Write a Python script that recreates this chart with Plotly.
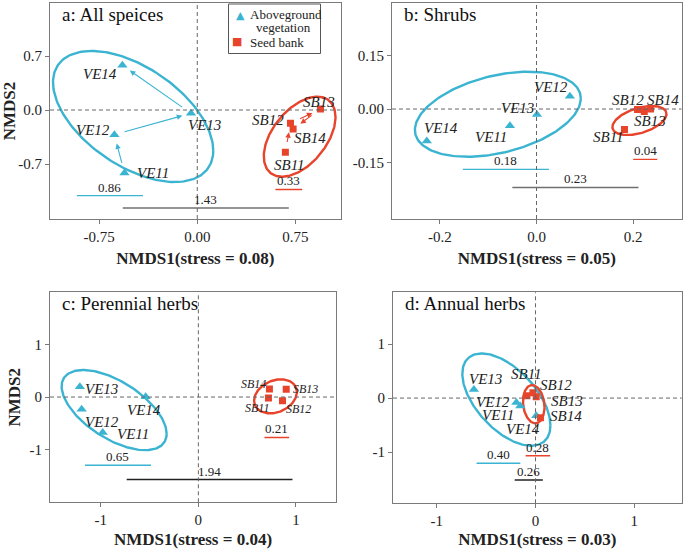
import numpy as np
import plotly.graph_objects as go

# ---- data ----
ve_names = ["VE11", "VE12", "VE13", "VE14"]
sb_names = ["SB11", "SB12", "SB13", "SB14"]

# panel a: All speices
a_ve_x = [-0.556, -0.633, -0.048, -0.572]
a_ve_y = [-0.817, -0.320, -0.043, 0.579]
a_sb_x = [0.673, 0.712, 0.941, 0.732]
a_sb_y = [-0.549, -0.173, 0.013, -0.246]

# panel b: Shrubs
b_ve_x = [-0.055, 0.069, 0.001, -0.227]
b_ve_y = [-0.047, 0.036, -0.015, -0.089]
b_sb_x = [0.182, 0.209, 0.223, 0.236]
b_sb_y = [-0.057, -0.001, -0.007, 0.000]

# panel c: Perennial herbs
c_ve_x = [-0.980, -1.196, -1.214, -0.540]
c_ve_y = [-0.672, -0.234, 0.196, 0.006]
c_sb_x = [0.718, 0.862, 0.900, 0.728]
c_sb_y = [-0.019, -0.070, 0.146, 0.152]

# panel d: Annual herbs
d_ve_x = [-0.154, -0.194, -0.624, 0.007]
d_ve_y = [-0.148, -0.080, 0.161, -0.327]
d_sb_x = [-0.087, -0.026, 0.007, 0.050]
d_sb_y = [0.043, 0.098, 0.024, -0.364]

# ellipses: centre x, centre y, half width, half height, correlation
a_ell = {"ve": [-0.49, -0.084, 0.612, 0.850, -0.52], "sb": [0.782, -0.346, 0.274, 0.519, 0.49]}
b_ell = {"ve": [-0.080, -0.0145, 0.1716, 0.1187, 0.37], "sb": [0.213, -0.032, 0.056, 0.0405, 0.45]}
c_ell = {"ve": [-0.863, -0.248, 0.538, 0.762, -0.59], "sb": [0.79, 0.013, 0.219, 0.324, 0.25]}
d_ell = {"ve": [-0.295, -0.028, 0.446, 0.855, -0.56], "sb": [-0.018, -0.114, 0.109, 0.355, -0.15]}

# distance bars: [x start, x end, y, label]
a_bars = {"ve": [-0.92, -0.415, -1.11, "0.86"], "sb": [0.597, 0.801, -1.03, "0.33"], "all": [-0.569, 0.699, -1.271, "1.43"]}
b_bars = {"ve": [-0.1525, 0.0257, -0.1685, "0.18"], "sb": [0.200, 0.250, -0.1405, "0.04"], "all": [-0.050, 0.211, -0.219, "0.23"]}
c_bars = {"ve": [-1.162, -0.485, -1.295, "0.65"], "sb": [0.677, 0.930, -0.768, "0.21"], "all": [-0.734, 0.964, -1.568, "1.94"]}
d_bars = {"ve": [-0.597, -0.154, -1.209, "0.40"], "sb": [-0.100, 0.148, -1.068, "0.28"], "all": [-0.211, 0.074, -1.519, "0.26"]}

titles = ["a: All speices", "b: Shrubs", "c: Perennial herbs", "d: Annual herbs"]
stress = ["0.08", "0.05", "0.04", "0.03"]
legend_names = ["Aboveground", "vegetation", "Seed bank"]

BLUE = "#3BB4D2"
RED = "#E8442C"
SERIF = "Liberation Serif"
W, H = 685, 549

# label offsets in pixels (dx right, dy down) per point, VE11..VE14 / SB11..SB14
panels = [
    dict(vx=a_ve_x, vy=a_ve_y, sx=a_sb_x, sy=a_sb_y, ell=a_ell, bars=a_bars,
         xd=[50 / W, 340.5 / W], yd=[1 - 219 / H, 1 - 3 / H],
         xr=[-1.125, 1.094], yr=[-1.413, 1.387],
         xt=[-0.75, 0, 0.75], xtt=["-0.75", "0.00", "0.75"],
         yt=[-0.7, 0, 0.7], ytt=["-0.7", "0.0", "0.7"],
         voff=[(29, 0), (-21, -5), (13, 12), (-22, 9)],
         soff=[(4, 13), (-22, -3), (-1, -7), (17, 9)],
         sfont=15, allc="#707070"),
    dict(vx=b_ve_x, vy=b_ve_y, sx=b_sb_x, sy=b_sb_y, ell=b_ell, bars=b_bars,
         xd=[392 / W, 681.5 / W], yd=[1 - 219 / H, 1 - 3 / H],
         xr=[-0.299, 0.300], yr=[-0.307, 0.296],
         xt=[-0.2, 0, 0.2], xtt=["-0.2", "0.0", "0.2"],
         yt=[-0.15, 0, 0.15], ytt=["-0.15", "0.00", "0.15"],
         voff=[(-19, 11), (-19, -9), (-19, -6), (14, -13)],
         soff=[(-16, 8), (-10, -9), (6, 9), (12, -9)],
         sfont=15, allc="#707070"),
    dict(vx=c_ve_x, vy=c_ve_y, sx=c_sb_x, sy=c_sb_y, ell=c_ell, bars=c_bars,
         xd=[50 / W, 336 / W], yd=[1 - 502.3 / H, 1 - 292.3 / H],
         xr=[-1.52, 1.41], yr=[-2.0, 1.99],
         xt=[-1, 0, 1], xtt=["-1", "0", "1"],
         yt=[-1, 0, 1], ytt=["-1", "0", "1"],
         voff=[(30, 2), (20, 13), (22, 2), (-2, 13)],
         soff=[(-11, 10), (16, 8), (19, 0), (-16, -5)],
         sfont=12, allc="#222222"),
    dict(vx=d_ve_x, vy=d_ve_y, sx=d_sb_x, sy=d_sb_y, ell=d_ell, bars=d_bars,
         xd=[393 / W, 681.7 / W], yd=[1 - 503.3 / H, 1 - 292.3 / H],
         xr=[-1.443, 1.48], yr=[-1.95, 1.96],
         xt=[-1, 0, 1], xtt=["-1", "0", "1"],
         yt=[-1, 0, 1], ytt=["-1", "0", "1"],
         voff=[(-22, 9), (-23, 0), (12, -10), (-13, 13)],
         soff=[(0, -22), (23, -8), (31, 4), (26, -2)],
         sfont=15, allc="#222222"),
]


def ellipse(cx, cy, wx, wy, r, n=200):
    t = np.linspace(0, 2 * np.pi, n)
    return cx + wx * np.cos(t), cy + wy * (r * np.cos(t) + np.sqrt(1 - r * r) * np.sin(t))


fig = go.Figure()
annotations = []
shapes = []

for i, p in enumerate(panels):
    n = "" if i == 0 else str(i + 1)
    xa, ya = "x" + n, "y" + n

    # ellipses
    for key, col in (("ve", BLUE), ("sb", RED)):
        ex, ey = ellipse(*p["ell"][key])
        fig.add_trace(go.Scatter(x=ex, y=ey, mode="lines", line=dict(color=col, width=2.4),
                                 xaxis=xa, yaxis=ya, showlegend=False, hoverinfo="skip"))

    # distance bars
    for key, col in (("ve", BLUE), ("sb", RED), ("all", p["allc"])):
        x0, x1, yb, lab = p["bars"][key]
        fig.add_trace(go.Scatter(x=[x0, x1], y=[yb, yb], mode="lines",
                                 line=dict(color=col, width=1.6 if key == "all" else 1.4),
                                 xaxis=xa, yaxis=ya, showlegend=False, hoverinfo="skip"))
        annotations.append(dict(x=(x0 + x1) / 2, y=yb, xref=xa, yref=ya, text=lab, showarrow=False,
                                yanchor="bottom", yshift=-1,
                                font=dict(family=SERIF, size=13, color="#222")))

    # points
    fig.add_trace(go.Scatter(x=p["vx"], y=p["vy"], mode="markers", name="Aboveground vegetation",
                             marker=dict(symbol="triangle-up", size=9, color=BLUE),
                             xaxis=xa, yaxis=ya, showlegend=False))
    fig.add_trace(go.Scatter(x=p["sx"], y=p["sy"], mode="markers", name="Seed bank",
                             marker=dict(symbol="square", size=7, color=RED),
                             xaxis=xa, yaxis=ya, showlegend=False))

    # point labels
    for names, xs, ys, offs, fs in ((ve_names, p["vx"], p["vy"], p["voff"], 15),
                                    (sb_names, p["sx"], p["sy"], p["soff"], p["sfont"])):
        for name, xv, yv, (dx, dy) in zip(names, xs, ys, offs):
            annotations.append(dict(x=xv, y=yv, xref=xa, yref=ya, text="<i>" + name + "</i>",
                                    showarrow=False, xshift=dx, yshift=-dy,
                                    font=dict(family=SERIF, size=fs, color="#222")))

    # dashed zero lines
    shapes.append(dict(type="line", xref=xa, yref=ya + " domain", x0=0, x1=0, y0=0, y1=1,
                       line=dict(color="#666", width=1, dash="4px,3px")))
    shapes.append(dict(type="line", xref=xa + " domain", yref=ya, x0=0, x1=1, y0=0, y1=0,
                       line=dict(color="#666", width=1, dash="4px,3px")))

    # panel title
    annotations.append(dict(x=0.035, y=1, yshift=1, xref=xa + " domain", yref=ya + " domain", text=titles[i],
                            showarrow=False, xanchor="left", yanchor="top",
                            font=dict(family=SERIF, size=19, color="#111")))

    axis_common = dict(showline=True, mirror=True, linecolor="#7a7a7a", linewidth=1, showgrid=False,
                       zeroline=False, ticks="outside", ticklen=4, tickcolor="#7a7a7a", automargin=False,
                       tickfont=dict(family=SERIF, size=15, color="#222"))
    fig.layout["xaxis" + n] = dict(domain=p["xd"], range=p["xr"], anchor=ya, tickvals=p["xt"], ticktext=p["xtt"],
                                   title=dict(text="<b>NMDS1(stress = " + stress[i] + ")</b>", standoff=8,
                                              font=dict(family=SERIF, size=17, color="#222")),
                                   **axis_common)
    fig.layout["yaxis" + n] = dict(domain=p["yd"], range=p["yr"], anchor=xa, tickvals=p["yt"], ticktext=p["ytt"],
                                   title=dict(text="<b>NMDS2</b>" if i in (0, 2) else "", standoff=4,
                                              font=dict(family=SERIF, size=17, color="#222")),
                                   **axis_common)

# successional arrows in panel a (VE11 -> VE12 -> VE13 -> VE14, same for SB)
for xs, ys, col in ((a_ve_x, a_ve_y, BLUE), (a_sb_x, a_sb_y, RED)):
    for k in range(len(xs) - 1):
        annotations.append(dict(x=xs[k + 1], y=ys[k + 1], ax=xs[k], ay=ys[k], xref="x", yref="y",
                                axref="x", ayref="y", text="", showarrow=True, arrowhead=2,
                                arrowsize=1, arrowwidth=1.1, arrowcolor=col, standoff=9, startstandoff=9))

# legend box drawn in panel a (tight two-line entry as in the original)
shapes.append(dict(type="rect", xref="paper", yref="paper", x0=228.5 / W, x1=320.5 / W,
                   y0=1 - 53.5 / H, y1=1 - 4 / H, line=dict(color="#555", width=1), fillcolor="white",
                   layer="above"))
leg_font = dict(family=SERIF, size=13, color="#222")
leg_common = dict(xref="paper", yref="paper", showarrow=False, yanchor="middle")
annotations += [
    dict(x=240 / W, y=1 - 15 / H, text="▲", xanchor="center",
         font=dict(family="DejaVu Sans", size=11, color=BLUE), **leg_common),
    dict(x=248 / W, y=1 - 14.5 / H, text=legend_names[0], xanchor="left", font=leg_font, **leg_common),
    dict(x=283 / W, y=1 - 27 / H, text=legend_names[1], xanchor="center", font=leg_font, **leg_common),
    dict(x=237 / W, y=1 - 42 / H, text="■", xanchor="center",
         font=dict(family="DejaVu Sans", size=11, color=RED), **leg_common),
    dict(x=248 / W, y=1 - 42.5 / H, text=legend_names[2], xanchor="left", font=leg_font, **leg_common),
]

fig.update_layout(
    width=W, height=H,
    margin=dict(l=0, r=0, t=0, b=0),
    paper_bgcolor="white", plot_bgcolor="white",
    annotations=annotations, shapes=shapes, showlegend=False,
)

fig.write_html("out.html", config={"displayModeBar": False},
               post_script="document.body.style.margin='0';")
